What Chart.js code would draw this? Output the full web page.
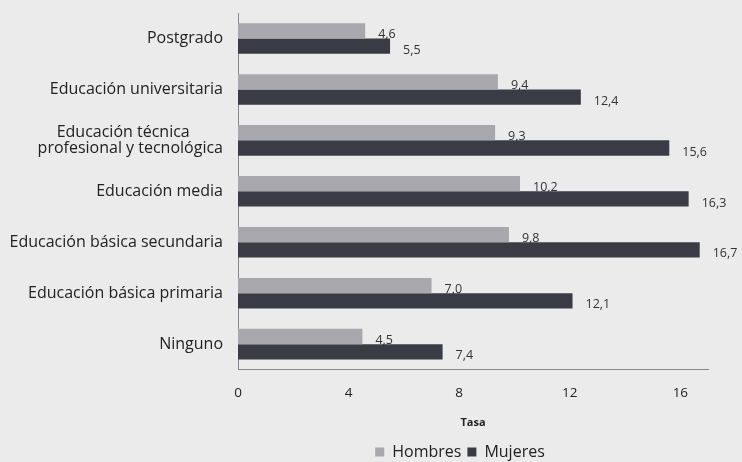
<!DOCTYPE html>
<html>
<head>
<meta charset="utf-8">
<script src="https://cdn.jsdelivr.net/npm/chart.js@4"></script>
<style>
  html, body { margin: 0; padding: 0; background: #ebebeb; }
  #wrap { width: 742px; height: 462px; }
</style>
</head>
<body>
<div id="wrap"><canvas id="chart" width="742" height="462"></canvas></div>
<script>
// niveles educativos (de arriba hacia abajo)
const categories = [
  "Postgrado",
  "Educación universitaria",
  ["Educación técnica        ", "profesional y tecnológica"],
  "Educación media",
  "Educación básica secundaria",
  "Educación básica primaria",
  "Ninguno"
];
const hombres = [4.6, 9.4, 9.3, 10.2, 9.8, 7.0, 4.5];
const mujeres = [5.5, 12.4, 15.6, 16.3, 16.7, 12.1, 7.4];
const xTicks = [0, 4, 8, 12, 16];

const FONT = "'Open Sans', sans-serif";

// etiquetas de valor al final de cada barra
const valueLabels = {
  id: "valueLabels",
  afterDatasetsDraw(chart) {
    const ctx = chart.ctx;
    ctx.save();
    ctx.font = "12.5px " + FONT;
    ctx.fillStyle = "#333";
    ctx.textAlign = "left";
    ctx.textBaseline = "middle";
    chart.data.datasets.forEach((ds, i) => {
      chart.getDatasetMeta(i).data.forEach((bar, j) => {
        const txt = ds.data[j].toFixed(1).replace(".", ",");
        ctx.fillText(txt, bar.x + 13, bar.y + 4);
      });
    });
    ctx.restore();
  }
};

// mover la leyenda bajo el centro del gráfico
const legendShift = {
  id: "legendShift",
  afterLayout(chart) {
    const lg = chart.legend;
    lg.left += 106; lg.right += 106;
    lg.top += 8; lg.bottom += 8;
  }
};

const ctx = document.getElementById("chart").getContext("2d");
const chart = new Chart(ctx, {
  type: "bar",
  data: {
    labels: categories,
    datasets: [
      { label: "Hombres", data: hombres, backgroundColor: "#a7a7ad", categoryPercentage: 0.6, barPercentage: 1.0 },
      { label: "Mujeres", data: mujeres, backgroundColor: "#3b3b46", categoryPercentage: 0.6, barPercentage: 1.0 }
    ]
  },
  options: {
    indexAxis: "y",
    responsive: false,
    animation: false,
    layout: { padding: { left: 0, right: 34, top: 13, bottom: 0 } },
    scales: {
      x: {
        min: 0,
        max: 17,
        afterBuildTicks: scale => { scale.ticks = xTicks.map(v => ({ value: v })); },
        grid: { display: false, drawTicks: true, tickLength: 4, color: "#888" },
        border: { color: "#888" },
        ticks: { color: "#222", font: { family: FONT, size: 13.5 }, padding: 11 },
        title: { display: true, text: "Tasa", color: "#222", font: { family: FONT, size: 11, weight: "bold" }, padding: { top: 4, bottom: 1 } }
      },
      y: {
        afterFit: scale => {
          scale.width = 238;
          scale.paddingTop = 0;
          scale.paddingBottom = 0;
        },
        grid: { display: false, drawTicks: true, tickLength: 5, color: "#888" },
        border: { color: "#888" },
        ticks: { color: "#222", font: { family: FONT, size: 16, lineHeight: 1.05 }, padding: 10 }
      }
    },
    plugins: {
      legend: {
        position: "bottom",
        labels: {
          color: "#222",
          font: { family: FONT, size: 16 },
          boxWidth: 9,
          boxHeight: 9,
          padding: 6
        }
      },
      tooltip: { enabled: false }
    }
  },
  plugins: [valueLabels, legendShift]
});
</script>
</body>
</html>
